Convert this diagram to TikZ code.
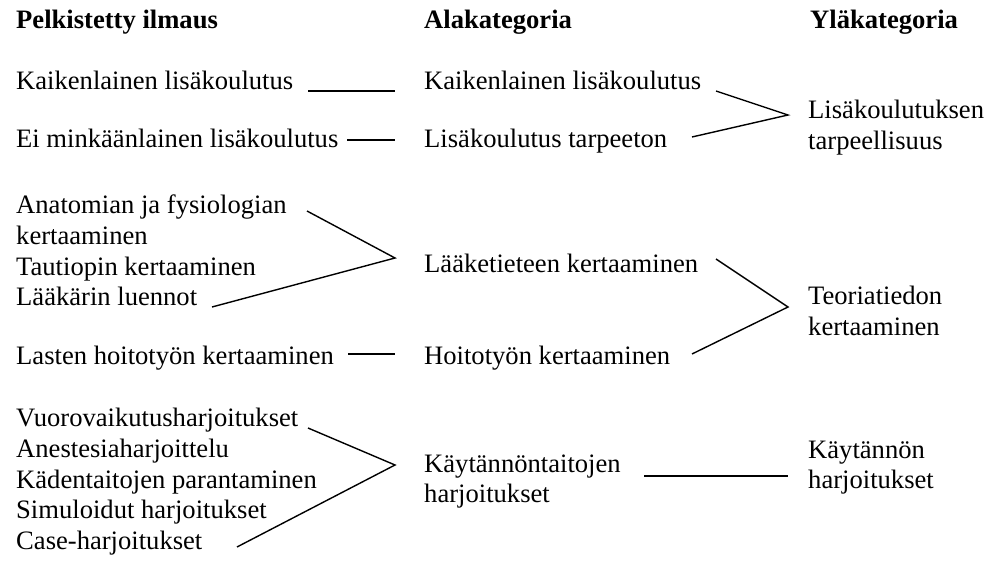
\documentclass[tikz,border=0pt]{standalone}
\usepackage{fontspec}
\setmainfont{Liberation Serif}
\begin{document}
\begin{tikzpicture}[x=1pt,y=-1pt,
  txt/.style={anchor=base west, inner sep=0pt, font=\fontsize{26.6}{30.6}\selectfont},
  hd/.style={anchor=base west, inner sep=0pt, font=\fontsize{26.6}{30.6}\selectfont\bfseries},
  conn/.style={line width=1.4pt}]
\useasboundingbox (0,0) rectangle (994,561);
% headers
\node[hd] (h1) at (16,29) {Pelkistetty ilmaus};
\node[hd] (h2) at (424,29) {Alakategoria};
\node[hd] (h3) at (810,29) {Yläkategoria};
% left column
\node[txt] (p1) at (16,90) {Kaikenlainen lisäkoulutus};
\node[txt] (p2) at (16,148) {Ei minkäänlainen lisäkoulutus};
\node[txt] (p3) at (16,214) {\begin{tabular}[t]{@{}l@{}}Anatomian ja fysiologian\\kertaaminen\\Tautiopin kertaaminen\\Lääkärin luennot\end{tabular}};
\node[txt] (p4) at (16,365) {Lasten hoitotyön kertaaminen};
\node[txt] (p5) at (16,427) {\begin{tabular}[t]{@{}l@{}}Vuorovaikutusharjoitukset\\Anestesiaharjoittelu\\Kädentaitojen parantaminen\\Simuloidut harjoitukset\\Case-harjoitukset\end{tabular}};
% middle column
\node[txt] (a1) at (424,90) {Kaikenlainen lisäkoulutus};
\node[txt] (a2) at (424,148) {Lisäkoulutus tarpeeton};
\node[txt] (a3) at (424,273) {Lääketieteen kertaaminen};
\node[txt] (a4) at (424,365) {Hoitotyön kertaaminen};
\node[txt] (a5) at (424,472) {\begin{tabular}[t]{@{}l@{}}Käytännöntaitojen\\harjoitukset\end{tabular}};
% right column
\node[txt] (y1) at (808,119) {\begin{tabular}[t]{@{}l@{}}Lisäkoulutuksen\\tarpeellisuus\end{tabular}};
\node[txt] (y2) at (808,305) {\begin{tabular}[t]{@{}l@{}}Teoriatiedon\\kertaaminen\end{tabular}};
\node[txt] (y3) at (808,458) {\begin{tabular}[t]{@{}l@{}}Käytännön\\harjoitukset\end{tabular}};
% connector end points
\coordinate (c1s) at (308,91);  \coordinate (c1e) at (395,91);
\coordinate (c2s) at (347,140); \coordinate (c2e) at (395,140);
\coordinate (y1a) at (716,91);  \coordinate (y1t) at (788,115); \coordinate (y1b) at (692,137);
\coordinate (p3a) at (307,211); \coordinate (p3t) at (395,258); \coordinate (p3b) at (212,307);
\coordinate (y2a) at (716,259); \coordinate (y2t) at (788,307); \coordinate (y2b) at (692,354);
\coordinate (c4s) at (348,354); \coordinate (c4e) at (395,354);
\coordinate (p5a) at (308,428); \coordinate (p5t) at (395,465); \coordinate (p5b) at (237,547);
\coordinate (c5s) at (644,476); \coordinate (c5e) at (788,476);
% connectors
\draw[conn] (c1s) -- (c1e);
\draw[conn] (c2s) -- (c2e);
\draw[conn] (y1a) -- (y1t) -- (y1b);
\draw[conn] (p3a) -- (p3t) -- (p3b);
\draw[conn] (y2a) -- (y2t) -- (y2b);
\draw[conn] (c4s) -- (c4e);
\draw[conn] (p5a) -- (p5t) -- (p5b);
\draw[conn] (c5s) -- (c5e);
\end{tikzpicture}
\end{document}
